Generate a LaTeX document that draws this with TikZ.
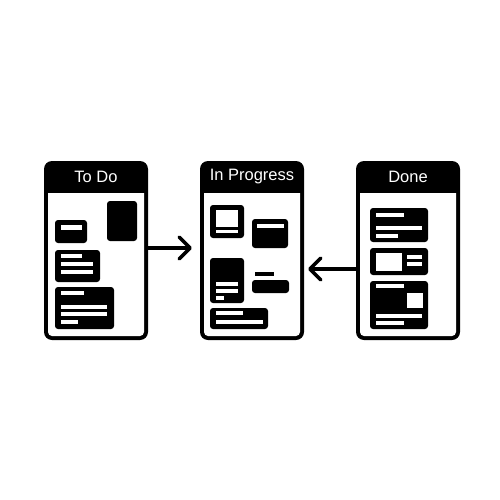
\documentclass[tikz,border=0pt]{standalone}
\usepackage{fontspec}
\setmainfont{Liberation Sans}
\usetikzlibrary{arrows.meta,calc}
\begin{document}
\begin{tikzpicture}[x=1pt,y=-1pt,
  panelbox/.style={fill=black,rounded corners=8pt,minimum width=104pt,minimum height=179pt,inner sep=0pt},
  headtxt/.style={text=white,font=\fontsize{16.5}{18}\selectfont,inner sep=0pt},
  card/.style={fill=black,rounded corners=3pt},
  wbar/.style={fill=white},
  arr/.style={line width=3.5pt,line cap=round,line join=round,-{Straight Barb[length=11pt,width=22pt,line cap=round,line join=round]}}]
\useasboundingbox (0,0) rectangle (500,500);
\fill[white] (0,0) rectangle (500,500);

% panels
\node[panelbox] (todo) at (96,250.5) {};
\node[panelbox] (prog) at (252,250.5) {};
\node[panelbox] (done) at (408,250.5) {};
\foreach \cx in {96,252,408}{
  \fill[white] (\cx-48,193) -- (\cx+48,193) [rounded corners=4pt] -- (\cx+48,336) -- (\cx-48,336) [sharp corners] -- cycle;
}
\node[headtxt] (todoh) at (96,177) {To Do};
\node[headtxt] (progh) at (252,177) {In Progress};
\node[headtxt] (doneh) at (408,177) {Done};

% To Do cards
\fill[card] (107,201) rectangle (137,241);
\fill[card] (55,220) rectangle (87,243);
\fill[wbar] (61,225) rectangle (82,230);
\fill[card] (55,250) rectangle (100,282);
\fill[wbar] (61,253.5) rectangle (82,257.5);
\fill[wbar] (61,261.5) rectangle (93,265.5);
\fill[wbar] (61,269.5) rectangle (93,273.5);
\fill[card] (55,287) rectangle (114,329);
\fill[wbar] (61,291) rectangle (84,295);
\fill[wbar] (61,305) rectangle (107,309);
\fill[wbar] (61,312) rectangle (107,316);
\fill[wbar] (61,320) rectangle (78,324);

% In Progress cards
\fill[card] (210,205) rectangle (244,238);
\fill[wbar] (216,210) rectangle (238,227);
\fill[wbar] (216,229.5) rectangle (238,233);
\fill[card] (252,219) rectangle (288,248);
\fill[wbar] (257,224) rectangle (284,228);
\fill[card] (210,258) rectangle (244,303);
\fill[wbar] (216,282) rectangle (238,286);
\fill[wbar] (216,288.5) rectangle (238,292.5);
\fill[wbar] (216,295.5) rectangle (224,299.5);
\fill[black] (255,272) rectangle (274,276);
\fill[card] (252,280) rectangle (289,293);
\fill[card] (210,308) rectangle (268,329);
\fill[wbar] (216,311) rectangle (243,315);
\fill[wbar] (216,320) rectangle (263,324);

% Done cards
\fill[card] (370,208) rectangle (428,242);
\fill[wbar] (376,213) rectangle (404,217);
\fill[wbar] (376,226) rectangle (422,230);
\fill[wbar] (376,234) rectangle (398,238);
\fill[card] (370,248) rectangle (428,275);
\fill[wbar] (376,253) rectangle (402,271);
\fill[wbar] (407,255) rectangle (422,259);
\fill[wbar] (407,262) rectangle (422,266);
\fill[card] (370,281) rectangle (428,329);
\fill[wbar] (376,284) rectangle (404,288);
\fill[wbar] (407,293) rectangle (423,308);
\fill[wbar] (376,314) rectangle (422,318);
\fill[wbar] (376,321) rectangle (404,325);

% arrows
\coordinate (ya) at (0,248);
\coordinate (yb) at (0,269);
\draw[arr] (todo.east |- ya) -- ([xshift=-8pt]prog.west |- ya);
\draw[arr] (done.west |- yb) -- ([xshift=4pt]prog.east |- yb);
\end{tikzpicture}
\end{document}
